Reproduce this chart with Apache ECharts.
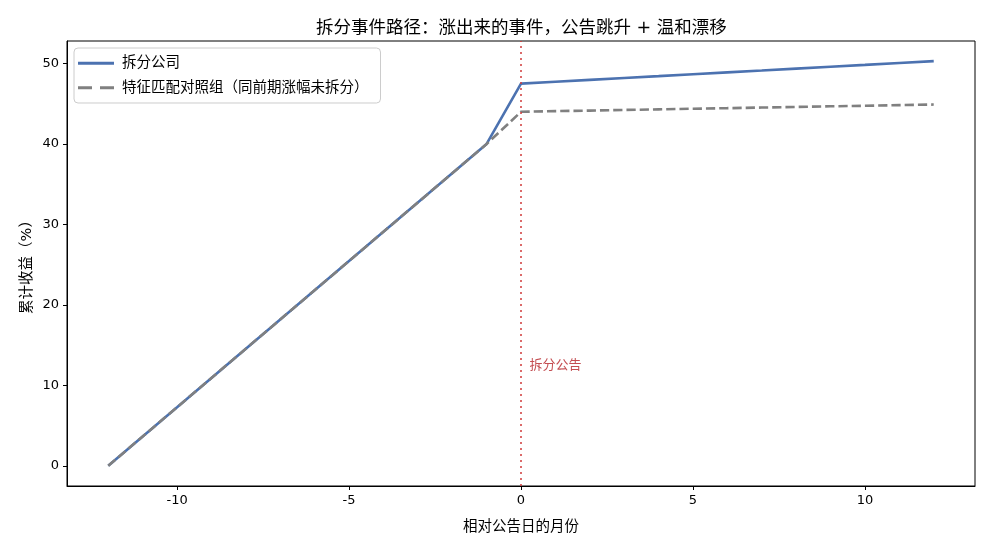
<!DOCTYPE html>
<html>
<head>
<meta charset="utf-8">
<script src="https://cdn.jsdelivr.net/npm/echarts@6/dist/echarts.min.js"></script>
<style>html,body{margin:0;padding:0;background:#fff}#c{width:990px;height:550px}</style>
</head>
<body>
<div id="c"></div>
<script>
const months = [-12,-11,-10,-9,-8,-7,-6,-5,-4,-3,-2,-1,0,1,2,3,4,5,6,7,8,9,10,11,12];
const splitCo = [0,3.64,7.27,10.91,14.55,18.18,21.82,25.45,29.09,32.73,36.36,40.0,47.5,47.73,47.97,48.2,48.43,48.67,48.9,49.13,49.37,49.6,49.83,50.07,50.3];
const matched = [0,3.64,7.27,10.91,14.55,18.18,21.82,25.45,29.09,32.73,36.36,40.0,44.0,44.08,44.15,44.23,44.3,44.38,44.45,44.53,44.6,44.68,44.75,44.83,44.9];
const xTicks = [-10,-5,0,5,10];
const yTicks = [0,10,20,30,40,50];
const seriesNames = ['拆分公司','特征匹配对照组（同前期涨幅未拆分）'];
const eventLabel = '拆分公告';
const eventX = 0;
const labelPos = [0.25, 12.4];

const FONT = '"DejaVu Sans","Noto Sans CJK SC",sans-serif';
const chart = echarts.init(document.getElementById('c'), null, {renderer:'canvas'});
chart.setOption({
  animation:false,
  backgroundColor:'#fff',
  title:{text:'拆分事件路径：涨出来的事件，公告跳升 + 温和漂移', left:311, top:15,
    textStyle:{fontFamily:FONT, fontSize:17.5, fontWeight:'normal', color:'#000'}},
  grid:{left:67, right:15, top:41, bottom:64, show:true, borderColor:'#000', borderWidth:1},
  legend:{orient:'vertical', left:74, top:48, itemWidth:36, itemHeight:14, itemGap:10,
    padding:[8,12,8,4], backgroundColor:'#fff', borderColor:'#ccc', borderWidth:1, borderRadius:4,
    textStyle:{fontFamily:FONT, fontSize:14.5, color:'#000', padding:[0,0,0,3]},
    data:[{name:seriesNames[0], icon:'path://M0,0H36V3H0Z'},
          {name:seriesNames[1], icon:'path://M0,0H14V3H0Z M22,0H36V3H22Z'}]},
  xAxis:{type:'value', min:-13.2, max:13.2, name:'相对公告日的月份', nameLocation:'middle', nameGap:34,
    nameTextStyle:{fontFamily:FONT, fontSize:14.5, color:'#000'},
    axisLine:{show:true, onZero:false, lineStyle:{color:'#000'}},
    axisTick:{show:true, length:4, lineStyle:{color:'#000'}, customValues:xTicks},
    axisLabel:{fontFamily:FONT, fontSize:13, color:'#000', margin:8, customValues:xTicks},
    splitLine:{show:false}},
  yAxis:{type:'value', min:-2.515, max:52.8, name:'累计收益（%）', nameLocation:'middle', nameGap:33,
    nameMoveOverlap:false,
    nameTextStyle:{fontFamily:FONT, fontSize:14.5, color:'#000'},
    axisLine:{show:true, onZero:false, lineStyle:{color:'#000'}},
    axisTick:{show:true, length:4, lineStyle:{color:'#000'}, customValues:yTicks},
    axisLabel:{fontFamily:FONT, fontSize:13, color:'#000', margin:8, customValues:yTicks},
    splitLine:{show:false}},
  series:[
    {name:seriesNames[0], type:'line', showSymbol:false, symbol:'none', z:2,
      data:months.map((m,i)=>[m,splitCo[i]]),
      lineStyle:{color:'#4C72B0', width:2.6}, itemStyle:{color:'#4C72B0'},
      markLine:{silent:true, symbol:'none', label:{show:false},
        lineStyle:{color:'#D03A3A', type:[2,4], width:1.5},
        data:[{xAxis:eventX}]},
      markPoint:{silent:true, symbol:'circle', symbolSize:0,
        data:[{coord:labelPos, label:{show:true, formatter:eventLabel, position:'right', distance:0,
          fontFamily:FONT, fontSize:13, color:'#C44E52'}}]}},
    {name:seriesNames[1], type:'line', showSymbol:false, symbol:'none', z:3,
      data:months.map((m,i)=>[m,matched[i]]),
      lineStyle:{color:'#808080', width:2.6, type:[9.25,4]}, itemStyle:{color:'#808080'}}
  ]
});
</script>
</body>
</html>
